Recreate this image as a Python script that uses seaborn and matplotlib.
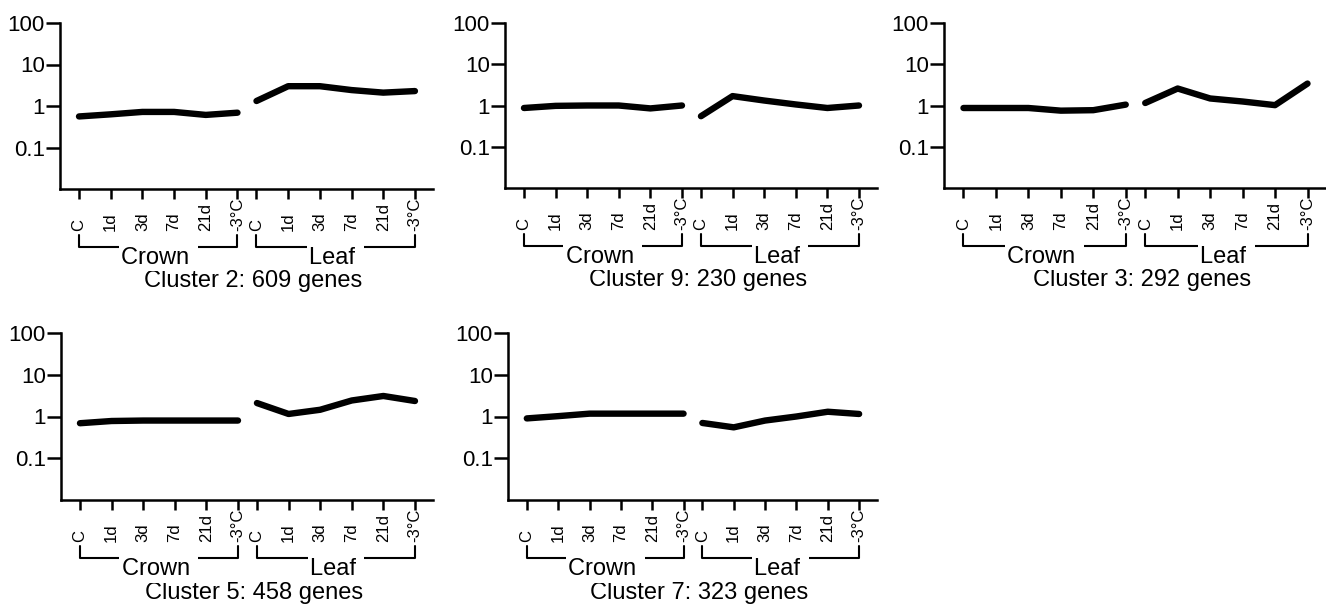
import pandas as pd
import matplotlib
matplotlib.use("Agg")
import matplotlib.pyplot as plt
import seaborn as sns

# time points (same for both tissues)
time_labels = ["C", "1d", "3d", "7d", "21d", "-3°C"]
tissues = ["Crown", "Leaf"]

# cluster titles and mean expression ratios
cluster_titles = ["Cluster 2: 609 genes", "Cluster 9: 230 genes", "Cluster 3: 292 genes",
                  "Cluster 5: 458 genes", "Cluster 7: 323 genes"]

c2_crown = [0.56, 0.63, 0.72, 0.72, 0.61, 0.69]
c2_leaf = [1.32, 3.0, 3.0, 2.42, 2.1, 2.29]
c9_crown = [0.87, 0.98, 1.0, 1.0, 0.85, 1.0]
c9_leaf = [0.55, 1.69, 1.32, 1.06, 0.87, 1.0]
c3_crown = [0.87, 0.87, 0.87, 0.75, 0.77, 1.05]
c3_leaf = [1.15, 2.58, 1.48, 1.25, 1.02, 3.4]
c5_crown = [0.69, 0.78, 0.8, 0.8, 0.8, 0.8]
c5_leaf = [2.1, 1.15, 1.45, 2.42, 3.1, 2.35]
c7_crown = [0.9, 1.02, 1.17, 1.17, 1.17, 1.17]
c7_leaf = [0.7, 0.55, 0.8, 1.0, 1.3, 1.15]

crown_vals = [c2_crown, c9_crown, c3_crown, c5_crown, c7_crown]
leaf_vals = [c2_leaf, c9_leaf, c3_leaf, c5_leaf, c7_leaf]

yticks = [0.1, 1, 10, 100]
ytick_labels = ["0.1", "1", "10", "100"]

# long table for seaborn
rows = []
for title, cr, lf in zip(cluster_titles, crown_vals, leaf_vals):
    for tissue, vals, offset in [("Crown", cr, 0.0), ("Leaf", lf, 5.6)]:
        for i, (t, v) in enumerate(zip(time_labels, vals)):
            rows.append({"cluster": title, "tissue": tissue, "time": t,
                         "pos": i + offset, "value": v})
df = pd.DataFrame(rows)

sns.set_style("ticks")
plt.rcParams["font.family"] = ["Liberation Sans", "DejaVu Sans"]
plt.rcParams.update({"text.color": "black", "axes.edgecolor": "black",
                     "xtick.color": "black", "ytick.color": "black",
                     "axes.labelcolor": "black"})

W, H = 1326, 604
fig = plt.figure(figsize=(W / 100, H / 100), dpi=100)

# panel boxes in pixels: left, right, top, bottom
boxes = [(60, 433, 23, 189), (505, 877, 23, 188), (944, 1326, 23, 188),
         (61, 433, 333, 500), (508, 877, 333, 500)]

for title, (l, r, t, b) in zip(cluster_titles, boxes):
    ax = fig.add_axes([l / W, 1 - b / H, (r - l) / W, (b - t) / H])
    sub = df[df["cluster"] == title]
    for tissue in tissues:
        sns.lineplot(data=sub[sub["tissue"] == tissue], x="pos", y="value",
                     color="black", linewidth=4.6, solid_capstyle="round",
                     estimator=None, ax=ax)
    ax.set_yscale("log")
    ax.set_ylim(0.01, 100)
    ax.set_xlim(-0.6, 11.17)
    ax.set_yticks(yticks, labels=ytick_labels)
    ax.minorticks_off()
    ax.set_xticks(sub["pos"].tolist(), labels=sub["time"].tolist())
    ax.set_xlabel("")
    ax.set_ylabel("")
    sns.despine(ax=ax)
    for s in ["left", "bottom"]:
        ax.spines[s].set_linewidth(1.8)
    ax.tick_params(axis="y", length=10, width=1.8, pad=1, labelsize=16)
    ax.tick_params(axis="x", length=7, width=1.8, pad=23.5, labelsize=12,
                   labelrotation=90)
    plt.setp(ax.get_xticklabels(), va="bottom", ha="center")

    # tissue brackets under the tick labels
    trans = ax.get_xaxis_transform()
    y_line = -0.35
    y_top = -0.277
    for tissue in tissues:
        tp = sub[sub["tissue"] == tissue]["pos"].tolist()
        x0, x1 = tp[0], tp[-1]
        ax.plot([x0, x0, x1, x1], [y_top, y_line, y_line, y_top], color="black",
                linewidth=1.5, transform=trans, clip_on=False)
        ax.text((x0 + x1) / 2, y_line, tissue + " ", transform=trans, ha="center",
                va="top", fontsize=17, zorder=5,
                bbox=dict(facecolor="white", edgecolor="none", pad=1.5))

    ax.text(0.519, -0.49, title, transform=ax.transAxes, ha="center", va="top",
            fontsize=17)

fig.savefig("out.png", dpi=100, facecolor="white")
